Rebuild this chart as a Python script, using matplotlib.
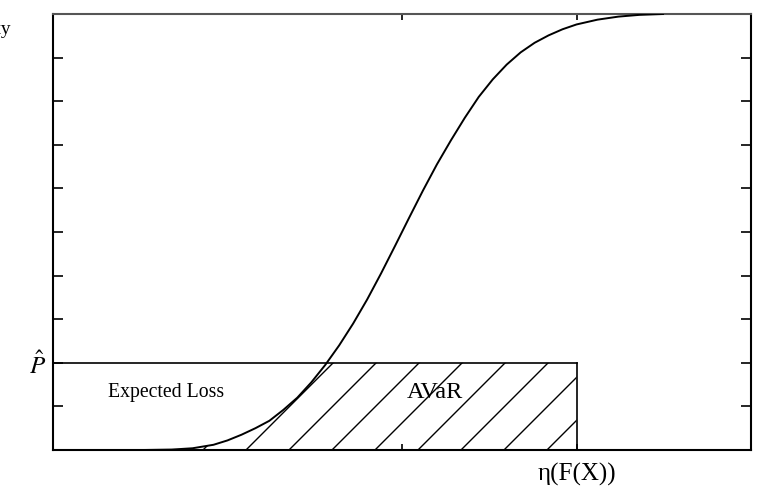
import numpy as np
import matplotlib
matplotlib.use("Agg")
import matplotlib.pyplot as plt
from matplotlib.patches import Polygon

# Cumulative distribution curve
cdf_x = [0.129, 0.170, 0.200, 0.230, 0.250, 0.270, 0.290, 0.310, 0.330, 0.350,
         0.370, 0.390, 0.410, 0.430, 0.450, 0.470, 0.490, 0.510, 0.530, 0.550,
         0.570, 0.590, 0.610, 0.630, 0.650, 0.670, 0.690, 0.710, 0.730, 0.750,
         0.780, 0.810, 0.840, 0.874]
cdf_y = [0.000, 0.001, 0.004, 0.012, 0.022, 0.035, 0.050, 0.067, 0.092, 0.120,
         0.155, 0.195, 0.240, 0.290, 0.345, 0.405, 0.468, 0.532, 0.595, 0.655,
         0.710, 0.762, 0.810, 0.850, 0.884, 0.912, 0.934, 0.951, 0.965, 0.976,
         0.987, 0.994, 0.998, 1.000]

p_hat = 0.2          # probability level
eta = 0.75           # eta(F(X))
y_ticks = [0.1 * i for i in range(1, 10)]
x_ticks = [0.5, 0.75]
x_tick_labels = ["", "η(F(X))"]

plt.rcParams['font.family'] = ['Liberation Serif', 'DejaVu Serif']
plt.rcParams['mathtext.fontset'] = 'stix'

fig = plt.figure(figsize=(7.58, 4.90), dpi=100)
ax = fig.add_axes([53/758, 40/490, 698/758, 436/490])
ax.set_xlim(0, 1)
ax.set_ylim(0, 1)

# CDF curve
ax.plot(cdf_x, cdf_y, color='black', lw=1.4, zorder=3)

# rectangle outline (P-hat level up to eta)
ax.plot([0, eta], [p_hat, p_hat], color='black', lw=1.2, zorder=3)
ax.plot([eta, eta], [0, p_hat], color='black', lw=1.2, zorder=3)

# hatched AVaR region: between curve and eta, below p_hat
ys = np.linspace(0, p_hat, 80)
xs_curve = np.interp(ys, cdf_y[1:], cdf_x[1:])
poly_pts = list(zip(xs_curve, ys)) + [(eta, p_hat), (eta, 0)]
poly = Polygon(poly_pts, closed=True, facecolor='none', edgecolor='none')
ax.add_patch(poly)
slope = 698 / 436
spacing = 0.0616
xb = 0.7077
while xb > -0.2:
    line, = ax.plot([xb, xb + 0.3 / slope], [0, 0.3], color='black', lw=1.0, zorder=2)
    line.set_clip_path(poly)
    xb -= spacing

# texts
ax.text(0.162, 0.133, "Expected Loss", fontsize=14.2, ha='center', va='center')
ax.text(0.547, 0.133, "AVaR", fontsize=17.5, ha='center', va='center')
fig.text(11/758, 1 - 29/490, "Probability", fontsize=14, ha='right', va='center')

# ticks
ax.set_yticks(y_ticks)
ax.set_yticklabels(["" if abs(t - p_hat) > 1e-6 else r"$\hat{P}$" for t in y_ticks], fontsize=18)
ax.set_xticks(x_ticks)
ax.set_xticklabels(x_tick_labels, fontsize=18)
ax.tick_params(axis='y', direction='in', length=7, width=1.2, right=True, pad=5)
ax.tick_params(axis='x', direction='in', length=4, width=1.2, top=True, pad=9)
for s in ax.spines.values():
    s.set_linewidth(1.5)
ax.spines['top'].set_color('#555555')

fig.savefig("out.png", dpi=100)
